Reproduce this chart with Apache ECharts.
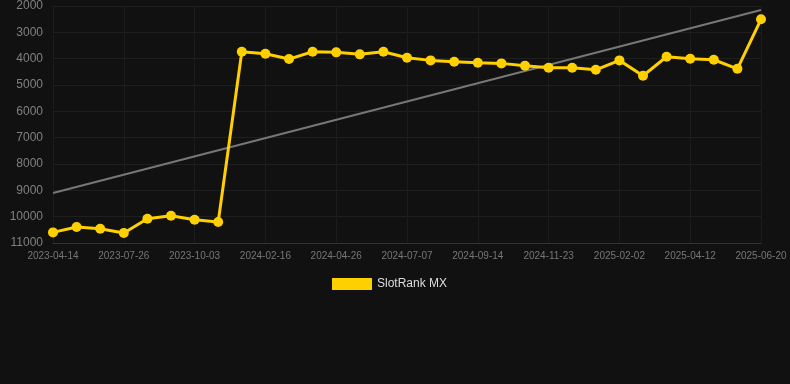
<!DOCTYPE html>
<html>
<head>
<meta charset="utf-8">
<script src="https://cdn.jsdelivr.net/npm/echarts@6/dist/echarts.min.js"></script>
<style>
html,body{margin:0;padding:0;background:#111111;}
#c{width:790px;height:384px;}
</style>
</head>
<body>
<div id="c"></div>
<script>
const dates = [
 '2023-04-14','2023-05-22','2023-06-26','2023-07-26','2023-08-20','2023-09-10','2023-10-03','2023-11-05','2023-12-20',
 '2024-02-16','2024-03-10','2024-04-02','2024-04-26','2024-05-20','2024-06-12','2024-07-07','2024-07-30','2024-08-22',
 '2024-09-14','2024-10-08','2024-10-31','2024-11-23','2024-12-16','2025-01-09','2025-02-02','2025-02-25','2025-03-20',
 '2025-04-12','2025-05-05','2025-05-28','2025-06-20'
];
const ranks = [
 10597,10392,10457,10620,10077,9964,10115,10203,3738,
 3814,4015,3738,3760,3836,3738,3966,4065,4118,
 4156,4179,4270,4346,4346,4422,4065,4650,3928,
 4004,4042,4384,2506
];
const trendStart = 9100;
const trendEnd = 2150;
const yTicks = [2000, 11000, 1000];

const chart = echarts.init(document.getElementById('c'));
chart.setOption({
  backgroundColor: '#111111',
  animation: false,
  grid: {left: 53, right: 29, top: 6, bottom: 141},
  legend: {
    data: ['SlotRank MX'],
    top: 273,
    left: 327,
    itemWidth: 40,
    itemHeight: 12,
    icon: 'rect',
    textStyle: {color: '#dddddd', fontSize: 12, fontFamily: 'Arial, Liberation Sans, sans-serif'}
  },
  xAxis: {
    type: 'category',
    data: dates,
    boundaryGap: false,
    axisLine: {lineStyle: {color: '#333333'}},
    axisTick: {show: false},
    axisLabel: {interval: 2, color: '#777777', fontSize: 10, margin: 8, fontFamily: 'Arial, Liberation Sans, sans-serif'},
    splitLine: {show: true, interval: 2, lineStyle: {color: '#1c1c1c'}}
  },
  yAxis: {
    type: 'value',
    inverse: true,
    min: yTicks[0],
    max: yTicks[1],
    interval: yTicks[2],
    axisLine: {show: false},
    axisTick: {show: false},
    axisLabel: {color: '#808080', fontSize: 12, margin: 10, fontFamily: 'Arial, Liberation Sans, sans-serif', formatter: function (v) { return String(v); }},
    splitLine: {lineStyle: {color: '#1f1f1f'}}
  },
  series: [
    {
      name: 'trend',
      type: 'line',
      data: [[dates[0], trendStart], [dates[dates.length - 1], trendEnd]],
      symbol: 'none',
      lineStyle: {color: '#777777', width: 2},
      silent: true,
      z: 1
    },
    {
      name: 'SlotRank MX',
      type: 'line',
      data: ranks,
      symbol: 'circle',
      symbolSize: 10,
      itemStyle: {color: '#FFD000'},
      lineStyle: {color: '#FFD000', width: 3},
      z: 2
    }
  ]
});
</script>
</body>
</html>
